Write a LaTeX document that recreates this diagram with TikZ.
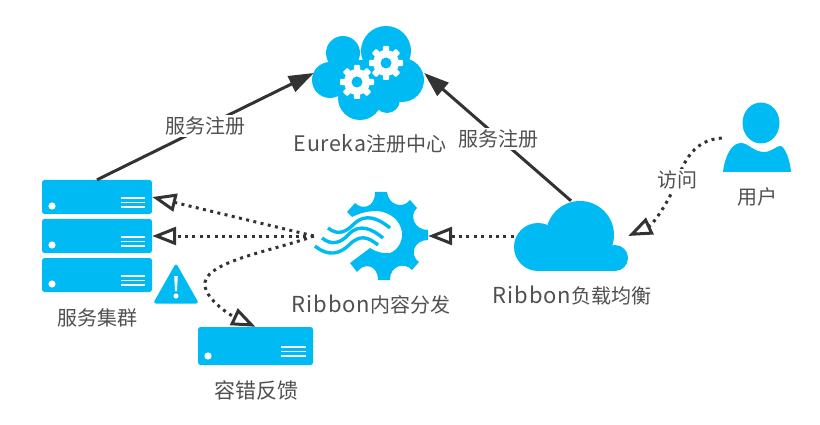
\documentclass[tikz,border=0pt]{standalone}
\usepackage{fontspec}
\setmainfont{Noto Sans CJK SC}
\newfontfamily\ribfont[LetterSpace=4,Scale=1.1]{Noto Sans CJK SC}
\newfontfamily\eurfont[LetterSpace=3,Scale=1.07]{Noto Sans CJK SC}
\usetikzlibrary{arrows.meta}
\definecolor{iconblue}{HTML}{00BBF3}
\definecolor{linegray}{HTML}{333333}
\definecolor{textgray}{HTML}{505050}
\newcommand{\iconlines}[3]{%
  \foreach \dy in {0,4.5,9}{\fill[white] (#1,#3+\dy-0.8) rectangle (#2,#3+\dy+0.8);}%
}
\newcommand{\whitegear}[2]{%
  \begin{scope}[shift={(#1,#2)}]
    \fill[white] (0,0) circle[radius=13];
    \foreach \a in {0,45,90,135}{\fill[white,rotate=\a,rounded corners=1] (-3.2,-17) rectangle (3.2,17);}
    \fill[iconblue] (0,0) circle[radius=5.5];
  \end{scope}%
}
\tikzset{
  serverbox/.style={fill=iconblue,rounded corners=2.5,inner sep=0,minimum width=110,minimum height=34},
  iconspot/.style={inner sep=0},
  lbl/.style={text=textgray,font=\fontsize{20}{22}\selectfont,inner sep=1},
  lblbg/.style={lbl,fill=white,inner sep=2},
  solidarrow/.style={draw=linegray,line width=3,-{Triangle[length=25,width=17]}},
  dotarrow/.style={draw=linegray,line width=3,dash pattern=on 3 off 4.4,-{Triangle[open,length=24,width=18,line width=3]}},
  wave/.style={draw=iconblue,line width=3.4}
}
\begin{document}
\begin{tikzpicture}[x=1pt,y=-1pt]
\useasboundingbox (0,0) rectangle (820,425);
\fill[white] (0,0) rectangle (820,425);

% named spots of the icons
\node[iconspot,minimum width=110,minimum height=100] (eureka) at (369,73) {};
\node[iconspot,minimum width=114,minimum height=88] (gear) at (371,236) {};
\node[iconspot,minimum width=114,minimum height=70] (lb) at (571,236) {};
\node[iconspot,minimum width=70,minimum height=70] (user) at (757,138) {};

% Eureka cloud
\foreach \cx/\cy/\r in {386/51/25,343/53/17,330/80/18,402/80/22,360/98/22,387/100/13}
  {\fill[iconblue] (\cx,\cy) circle[radius=\r];}
\fill[iconblue] (335,60) rectangle (400,95);
\whitegear{357}{82}
\whitegear{386}{63}

% servers
\node[serverbox] (s1) at (97,197) {};
\node[serverbox] (s2) at (97,236) {};
\node[serverbox] (s3) at (97,275) {};
\node[serverbox,minimum width=115,minimum height=38] (s4) at (255.5,346) {};
\foreach \cx/\cy in {52/206,52/245,52/284,208/356}
  {\fill[white] (\cx,\cy) circle[radius=3.6];}
\iconlines{121}{145}{198}
\iconlines{121}{145}{237}
\iconlines{121}{145}{276}
\iconlines{281}{306}{347}

% warning
\fill[iconblue,rounded corners=3] (176,263) -- (199,303.5) -- (153,303.5) -- cycle;
\fill[white] (174.2,276) -- (177.8,276) -- (177,291) -- (175,291) -- cycle;
\fill[white] (176,296) circle[radius=2.6];

% Ribbon gear
\fill[iconblue] (375,192) -- (387,192) .. controls (388,204) and (402,210) .. (410,200)
  -- (417,208) .. controls (409,215) and (414,230) .. (428,230)
  -- (428,240) .. controls (414,240) and (409,255) .. (419,262)
  -- (412,270) .. controls (405,262) and (390,265) .. (390,280)
  -- (378,280) .. controls (378,265) and (364,262) .. (357,272)
  -- (350,263) -- (370,248)
  .. controls (376,252) and (385,254) .. (390,253)
  .. controls (398,250) and (403,241) .. (402,232)
  .. controls (400,220) and (390,212) .. (377,211)
  .. controls (368,211) and (360,213) .. (352,217)
  -- (347,212) -- (355,203) .. controls (362,210) and (375,208) .. (375,192) -- cycle;
\draw[wave] (328,228) .. controls (338,236) and (346,232) .. (354,224) .. controls (365,213) and (378,218) .. (390,228);
\draw[wave] (322,238) .. controls (332,246) and (341,243) .. (349,234) .. controls (360,223) and (372,229) .. (383,238);
\draw[wave] (315,246) .. controls (328,257) and (340,254) .. (349,245) .. controls (360,234) and (368,237) .. (378,245);

% Ribbon cloud
\fill[iconblue] (538,247) circle[radius=24];
\fill[iconblue] (580,235) circle[radius=34];
\fill[iconblue] (615,258) circle[radius=13];
\fill[iconblue] (538,252) rectangle (615,271);

% user
\fill[iconblue] (761,123) ellipse[x radius=18.5,y radius=20.5];
\fill[iconblue] (723,172) .. controls (725,155) and (732,143) .. (741,143)
  .. controls (748,143) and (754,152) .. (764,152)
  .. controls (772,152) and (776,146) .. (780,146)
  .. controls (785,146) and (790,160) .. (791,172) -- cycle;

% connectors
\draw[dotarrow] (gear.west) -- (s1.east);
\draw[dotarrow] (gear.west) -- (s2.east);
\draw[dotarrow] (gear.west) .. controls (270,252) and (200,262) .. (205,287) .. controls (208,300) and (228,314) .. (s4.north);
\draw[dotarrow] (lb.west) -- (gear.east);
\draw[dotarrow] (user.west) .. controls (695,140) and (685,158) .. (675,185) .. controls (667,205) and (652,225) .. (lb.east);
\draw[solidarrow] (s1.north) -- (eureka.west);
\draw[solidarrow] (lb.north) -- (eureka.east);

% labels
\node[lblbg] (t1) at (205,126) {服务注册};
\node[lblbg] (t2) at (498,139) {服务注册};
\node[lblbg] (t3) at (677,180) {访问};
\node[lbl] (t4) at (370,144) {{\eurfont Eureka}注册中心};
\node[lbl] (t5) at (97,318) {服务集群};
\node[lbl] (t6) at (371,305) {{\ribfont Ribbon}内容分发};
\node[lbl,font=\fontsize{21}{23}\selectfont] (t7) at (256,390) {容错反馈};
\node[lbl] (t8) at (572,296) {{\ribfont Ribbon}负载均衡};
\node[lbl] (t9) at (757,197) {用户};
\end{tikzpicture}
\end{document}
